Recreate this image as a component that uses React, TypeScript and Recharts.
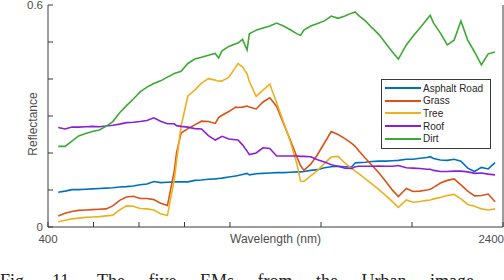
import { Legend, Line, LineChart, XAxis, YAxis } from 'recharts';

// band centres (nm) as laid out on the plot
const wavelengths = [
  445, 475, 505, 535, 565, 595, 625, 655, 685, 715, 745, 775, 805, 835, 865, 895, 925, 955, 965, 985,
  1015, 1045, 1075, 1105, 1135, 1150, 1165, 1195, 1225, 1235, 1255, 1275, 1285, 1315, 1345, 1375, 1405, 1435,
  1465, 1495, 1510, 1525, 1555, 1585, 1615, 1645, 1675, 1705, 1735, 1750, 1765, 1795, 1825, 1855, 1885, 1915,
  1940, 1975, 2005, 2035, 2065, 2080, 2095, 2125, 2155, 2185, 2215, 2245, 2275, 2305, 2335, 2365,
];

const asphaltRoad = [
  0.094, 0.097, 0.101, 0.101, 0.102, 0.103, 0.104, 0.105, 0.106, 0.108, 0.109, 0.111, 0.114, 0.116, 0.123, 0.12, 0.121, 0.122, 0.122, 0.122,
  0.122, 0.126, 0.127, 0.129, 0.13, 0.131, 0.132, 0.135, 0.138, 0.139, 0.142, 0.145, 0.141, 0.144, 0.145, 0.146, 0.147, 0.147,
  0.148, 0.149, 0.149, 0.15, 0.153, 0.155, 0.16, 0.163, 0.164, 0.163, 0.163, 0.173, 0.174, 0.175, 0.177, 0.178, 0.178, 0.179,
  0.18, 0.183, 0.183, 0.186, 0.188, 0.19, 0.185, 0.181, 0.18, 0.183, 0.178, 0.159, 0.15, 0.161, 0.157, 0.174,
];

const grass = [
  0.03, 0.037, 0.042, 0.045, 0.046, 0.047, 0.048, 0.049, 0.057, 0.072, 0.081, 0.083, 0.077, 0.077, 0.074, 0.064, 0.058, 0.151, 0.2, 0.254,
  0.266, 0.276, 0.286, 0.285, 0.28, 0.296, 0.302, 0.312, 0.324, 0.323, 0.324, 0.327, 0.324, 0.319, 0.338, 0.349, 0.326, 0.28,
  0.235, 0.188, 0.166, 0.153, 0.17, 0.196, 0.227, 0.258, 0.25, 0.239, 0.226, 0.218, 0.207, 0.186, 0.166, 0.146, 0.123, 0.099,
  0.082, 0.104, 0.096, 0.097, 0.1, 0.102, 0.107, 0.119, 0.126, 0.13, 0.114, 0.097, 0.084, 0.085, 0.089, 0.068,
];

const tree = [
  0.014, 0.018, 0.022, 0.024, 0.026, 0.027, 0.028, 0.03, 0.032, 0.046, 0.057, 0.056, 0.05, 0.049, 0.046, 0.036, 0.031, 0.127, 0.178, 0.273,
  0.354, 0.37, 0.389, 0.401, 0.397, 0.394, 0.395, 0.405, 0.432, 0.442, 0.432, 0.414, 0.393, 0.353, 0.37, 0.386, 0.336, 0.284,
  0.232, 0.168, 0.124, 0.123, 0.138, 0.153, 0.172, 0.189, 0.191, 0.173, 0.158, 0.151, 0.145, 0.13, 0.116, 0.101, 0.085, 0.068,
  0.053, 0.073, 0.067, 0.069, 0.072, 0.073, 0.076, 0.08, 0.085, 0.088, 0.076, 0.061, 0.056, 0.049, 0.046, 0.049,
];

const roof = [
  0.269, 0.265, 0.27, 0.27, 0.271, 0.272, 0.271, 0.273, 0.275, 0.278, 0.282, 0.283, 0.285, 0.288, 0.295, 0.286, 0.279, 0.279, 0.274, 0.272,
  0.27, 0.266, 0.265, 0.247, 0.235, 0.24, 0.245, 0.238, 0.236, 0.235, 0.222, 0.205, 0.196, 0.2, 0.214, 0.212, 0.192, 0.192,
  0.192, 0.192, 0.191, 0.191, 0.19, 0.182, 0.176, 0.168, 0.164, 0.159, 0.158, 0.163, 0.164, 0.164, 0.164, 0.165, 0.164, 0.164,
  0.166, 0.16, 0.159, 0.158, 0.156, 0.156, 0.153, 0.15, 0.15, 0.151, 0.151, 0.149, 0.145, 0.146, 0.143, 0.141,
];

const dirt = [
  0.218, 0.218, 0.232, 0.246, 0.253, 0.258, 0.262, 0.272, 0.285, 0.309, 0.328, 0.346, 0.365, 0.378, 0.388, 0.395, 0.405, 0.415, 0.417, 0.421,
  0.442, 0.454, 0.459, 0.464, 0.469, 0.457, 0.476, 0.488, 0.495, 0.497, 0.507, 0.478, 0.522, 0.532, 0.538, 0.543, 0.551, 0.543,
  0.533, 0.522, 0.518, 0.532, 0.543, 0.55, 0.557, 0.57, 0.564, 0.57, 0.578, 0.581, 0.572, 0.557, 0.538, 0.52, 0.496, 0.472,
  0.454, 0.492, 0.516, 0.538, 0.561, 0.572, 0.551, 0.524, 0.492, 0.505, 0.557, 0.505, 0.473, 0.438, 0.468, 0.473,
];

const xTicks = [400, 600, 800, 1000, 1200, 1600, 2000, 2400];
const xLabelled = [400, 2400];
const yTicks = [0, 0.1, 0.2, 0.3, 0.4, 0.5, 0.6];
const yLabelled = [0, 0.6];

const series = [
  { key: 'road', name: 'Asphalt Road', color: '#0072BD', values: asphaltRoad },
  { key: 'grass', name: 'Grass', color: '#D95319', values: grass },
  { key: 'tree', name: 'Tree', color: '#EDB120', values: tree },
  { key: 'roof', name: 'Roof', color: '#8A1FD8', values: roof },
  { key: 'dirt', name: 'Dirt', color: '#3DA935', values: dirt },
];

const data = wavelengths.map((wl, i) => {
  const row: Record<string, number> = { wl };
  series.forEach((s) => {
    row[s.key] = s.values[i];
  });
  return row;
});

const AXIS = '#3a3a3a';
const TEXT = '#4d4d4d';
const SANS = '"Liberation Sans", Arial, sans-serif';

const XTick = ({ x, y, payload }: any) => {
  if (!xLabelled.includes(payload.value)) return <g />;
  const last = payload.value === xLabelled[xLabelled.length - 1];
  return (
    <text x={last ? x + 1 : x} y={y} dy="0.71em" textAnchor={last ? 'end' : 'middle'} fill={TEXT} fontSize={11.5}>
      {payload.value}
    </text>
  );
};

// legend keeps the plotting order (recharts would sort it by name)
const LegendBox = () => (
  <div style={{ border: `1px solid ${AXIS}`, background: '#fff', padding: '2px 0 3px 3px', fontSize: 10, color: '#262626' }}>
    {series.map((s) => (
      <div key={s.key} style={{ display: 'flex', alignItems: 'center', height: 12.6 }}>
        <span style={{ display: 'inline-block', width: 36, height: 2, background: s.color, marginRight: 2 }} />
        <span>{s.name}</span>
      </div>
    ))}
  </div>
);

const App = () => {
  return (
    <div style={{ position: 'absolute', left: 0, top: 0, width: 504, height: 280, overflow: 'hidden', background: '#fff', fontFamily: SANS }}>
      <LineChart width={504} height={260} data={data} margin={{ top: 0, right: 0, bottom: 0, left: 0 }}>
        <XAxis
          xAxisId="b"
          dataKey="wl"
          type="number"
          domain={[400, 2400]}
          ticks={xTicks}
          interval={0}
          height={33}
          tickSize={-5}
          tickMargin={13}
          stroke={AXIS}
          tick={XTick}
          label={{ value: 'Wavelength (nm)', position: 'insideTop', offset: 7, fill: TEXT, fontSize: 12 }}
        />
        <XAxis
          xAxisId="t"
          orientation="top"
          dataKey="wl"
          type="number"
          domain={[400, 2400]}
          ticks={xTicks}
          interval={0}
          height={5}
          tickSize={-5}
          axisLine={false}
          tick={false}
          stroke={AXIS}
        />
        <YAxis
          yAxisId="l"
          type="number"
          domain={[0, 0.6]}
          ticks={yTicks}
          interval={0}
          width={48}
          tickSize={-5}
          tickMargin={10}
          stroke={AXIS}
          tick={{ fill: TEXT, fontSize: 11.5 }}
          tickFormatter={(v: number) => (yLabelled.includes(v) ? String(v) : '')}
          label={{
            content: () => (
              <text transform="translate(36.5,124) rotate(-90)" textAnchor="middle" fill={TEXT} fontSize={12}>
                Reflectance
              </text>
            ),
          }}
        />
        <YAxis
          yAxisId="r"
          orientation="right"
          type="number"
          domain={[0, 0.6]}
          ticks={yTicks}
          interval={0}
          width={1}
          tickSize={-5}
          tick={false}
          stroke={AXIS}
        />
        {series.map((s) => (
          <Line
            key={s.key}
            xAxisId="b"
            yAxisId="l"
            dataKey={s.key}
            name={s.name}
            stroke={s.color}
            strokeWidth={1.6}
            dot={false}
            activeDot={false}
            isAnimationActive={false}
          />
        ))}
        <Legend
          layout="horizontal"
          verticalAlign="middle"
          align="center"
          wrapperStyle={{ left: 381, top: 79, width: 110 }}
          content={() => <LegendBox />}
        />
      </LineChart>
      <div
        style={{
          position: 'absolute',
          left: 0,
          top: 272,
          fontFamily: '"Liberation Serif", "Times New Roman", serif',
          fontSize: 18,
          lineHeight: '18px',
          wordSpacing: 19,
          whiteSpace: 'nowrap',
          color: '#222',
        }}
      >
        Fig. 11. The five EMs from the Urban image.
      </div>
    </div>
  );
};

export default App;
